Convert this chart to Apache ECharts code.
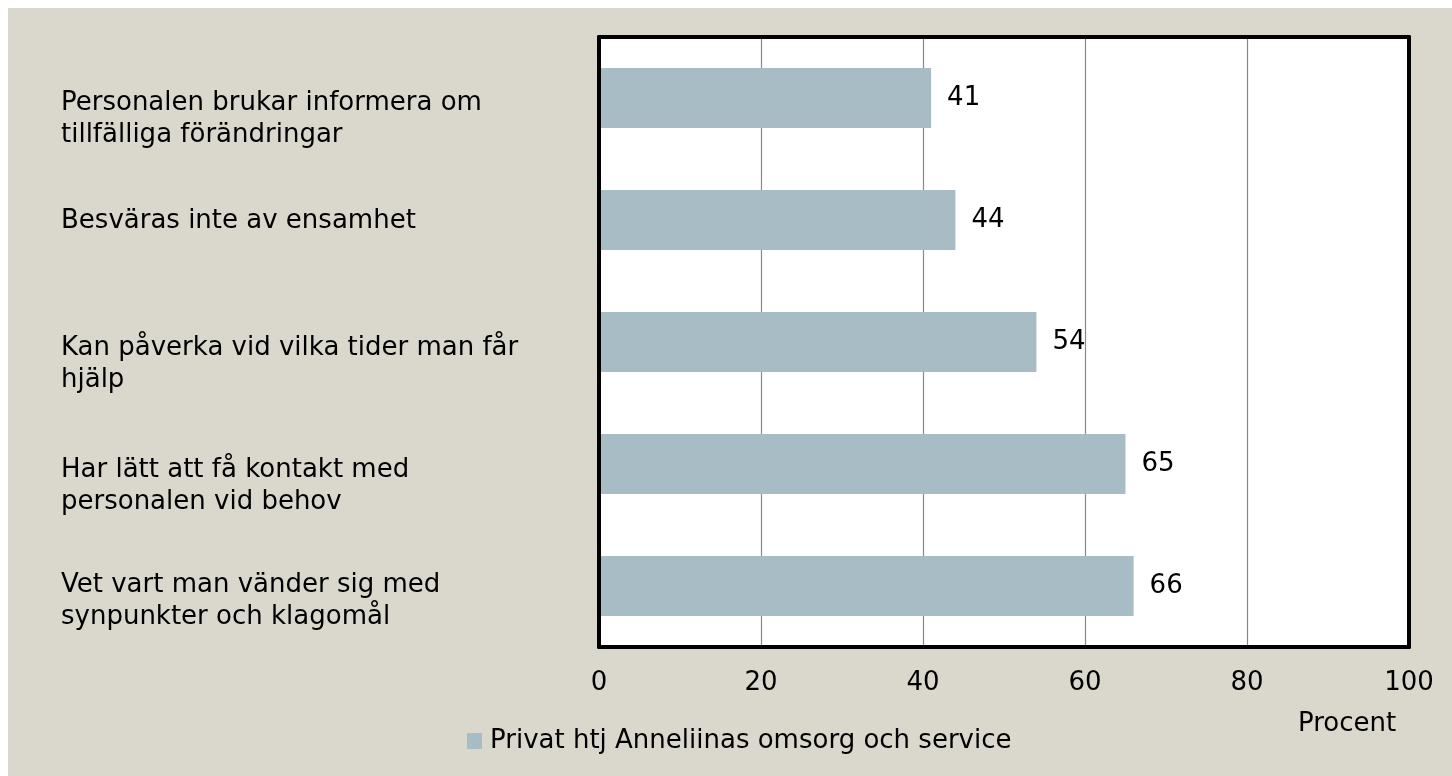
<!DOCTYPE html>
<html>
<head>
<meta charset="utf-8">
<script src="https://cdn.jsdelivr.net/npm/echarts@6/dist/echarts.min.js"></script>
<style>
  html, body { margin: 0; padding: 0; background: #ffffff; }
  #chart { position: absolute; left: 8px; top: 8px; width: 1444px; height: 768px; background: #dad8cc; }
</style>
</head>
<body>
<div id="chart"></div>
<script>
const categories = [
  "Personalen brukar informera om\ntillfälliga förändringar",
  "Besväras inte av ensamhet",
  "Kan påverka vid vilka tider man får\nhjälp",
  "Har lätt att få kontakt med\npersonalen vid behov",
  "Vet vart man vänder sig med\nsynpunkter och klagomål"
];
const values = [41, 44, 54, 65, 66];
const seriesName = "Privat htj Anneliinas omsorg och service";
const xTicks = [0, 20, 40, 60, 80, 100];
const axisTitle = "Procent";

// spacer heights (px) that push each category label down, as in the reference
const labelSpacer = [43, 3, 44, 44, 30];

const FONT = "'DejaVu Sans', sans-serif";
const FS = 26;
const chart = echarts.init(document.getElementById('chart'), null, { renderer: 'canvas' });

const rich = {};
labelSpacer.forEach((h, i) => {
  rich['s' + i] = { lineHeight: h, fontSize: 1, height: h };
});

const option = {
  backgroundColor: '#dad8cc',
  animation: false,
  textStyle: { fontFamily: FONT },
  grid: { left: 591, top: 29, right: 43, bottom: 129, show: true, backgroundColor: '#ffffff', borderWidth: 0, containLabel: false, outerBoundsMode: 'none' },
  legend: {
    data: [seriesName],
    left: 454, top: 715,
    icon: 'rect', itemWidth: 15, itemHeight: 16, itemGap: 10,
    textStyle: { fontSize: FS, color: '#000', fontFamily: FONT, padding: [0, 0, 0, 3] }
  },
  title: {
    text: axisTitle, left: 1285, top: 698,
    textStyle: { fontSize: FS, fontWeight: 'normal', color: '#000', fontFamily: FONT }
  },
  xAxis: [
    {
      type: 'value', position: 'bottom', min: xTicks[0], max: xTicks[xTicks.length - 1], interval: 20, z: 1,
      axisLine: { show: true, lineStyle: { color: '#000', width: 4 } },
      axisTick: { show: false },
      axisLabel: { fontSize: FS, color: '#000', margin: 23, fontFamily: FONT },
      splitLine: { show: true, lineStyle: { color: '#898989', width: 1.2 } }
    },
    {
      type: 'value', position: 'top', min: 0, max: 100, z: 4,
      axisLine: { show: true, onZero: false, lineStyle: { color: '#000', width: 4 } },
      axisTick: { show: false }, axisLabel: { show: false }, splitLine: { show: false }
    }
  ],
  yAxis: [
    {
      type: 'category', position: 'left', inverse: true, z: 4,
      data: categories,
      axisLine: { show: true, onZero: false, lineStyle: { color: '#000', width: 4 } },
      axisTick: { show: false },
      axisLabel: {
        fontSize: FS, color: '#000', align: 'left', verticalAlign: 'middle', margin: 538, lineHeight: 32, fontFamily: FONT,
        formatter: (value, index) => labelSpacer[index] > 0 ? ('{s' + index + '| }\n' + value) : value,
        rich: rich
      },
      splitLine: { show: false }
    },
    {
      type: 'category', position: 'right', inverse: true, z: 4,
      data: categories,
      axisLine: { show: true, onZero: false, lineStyle: { color: '#000', width: 4 } },
      axisTick: { show: false }, axisLabel: { show: false }, splitLine: { show: false }
    }
  ],
  series: [
    {
      name: seriesName, type: 'bar', xAxisIndex: 0, yAxisIndex: 0,
      data: values, barWidth: 60, z: 2,
      itemStyle: { color: '#a8bcc6' },
      label: { show: true, position: 'right', distance: 16, fontSize: FS, color: '#000', fontFamily: FONT }
    }
  ]
};
chart.setOption(option);
</script>
</body>
</html>
